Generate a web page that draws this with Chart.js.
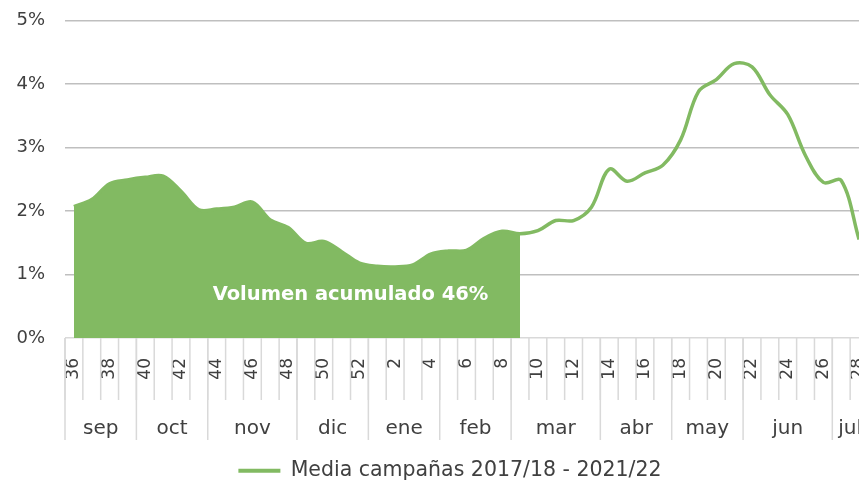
<!DOCTYPE html>
<html>
<head>
<meta charset="utf-8">
<script src="https://cdn.jsdelivr.net/npm/chart.js@4.4.1/dist/chart.umd.min.js"></script>
<style>
html,body{margin:0;padding:0;background:#ffffff;overflow:hidden;}
#caja{width:900px;height:485px;}
</style>
</head>
<body>
<div id="caja"><canvas id="grafico" width="900" height="485"></canvas></div>
<script>

// =====================================
// DATOS
// =====================================

const semanas = [
    36,37,38,39,40,41,42,43,44,45,46,47,48,49,50,51,52,
    1,2,3,4,5,6,7,8,9,10,11,12,13,14,15,16,17,18,19,20,
    21,22,23,24,25,26,27,28
];

// % de volumen semanal, media campañas
const media = [
    2.07,2.18,2.43,2.49,2.53,2.55,2.31,2.02,2.03,2.06,2.14,1.86,1.74,1.49,1.52,1.36,1.18,
    1.13,1.12,1.15,1.32,1.37,1.38,1.57,1.68,1.64,1.69,1.85,1.85,2.06,2.66,2.47,2.60,2.72,3.12,3.88,4.07,
    4.32,4.27,3.83,3.52,2.87,2.45,2.48,1.55
];

// el area rellena llega hasta la semana 9
const semanaFinAcumulado = 9;

const acumulado = media.map(
    (v,i)=> i <= semanas.indexOf(semanaFinAcumulado) ? v : null
);

const meses = ["sep","oct","nov","dic","ene","feb","mar","abr","may","jun","jul"];

const semanasPorMes = [4,4,5,4,4,4,5,4,4,5,2];

const ticksY = [0,1,2,3,4,5];

const etiquetaSerie = "Media campañas 2017/18 - 2021/22";

const textoAcumulado = "Volumen acumulado 46%";


// =====================================
// ESTILO
// =====================================

const verde = "#82BA62";
const gris = "#404040";
const fuente = "'DejaVu Sans', sans-serif";

Chart.defaults.font.family = fuente;
Chart.defaults.color = gris;


// =====================================
// EJE DE MESES + TEXTO
// =====================================

const ejeMeses = {

    id:"ejeMeses",

    afterDraw(chart){

        const {ctx, chartArea, scales} = chart;
        const x = scales.x;
        const y = scales.y;

        const medio =
        (x.getPixelForValue(1) - x.getPixelForValue(0)) / 2;

        const base = chartArea.bottom;

        ctx.save();

        ctx.strokeStyle = "#D9D9D9";
        ctx.lineWidth = 1.5;

        // separadores de semanas
        for(let k=0; k<=semanas.length; k++){

            const px = x.getPixelForValue(k) - medio;

            ctx.beginPath();
            ctx.moveTo(px, base);
            ctx.lineTo(px, base + 62);
            ctx.stroke();

        }

        // meses
        ctx.fillStyle = gris;
        ctx.font = "20px " + fuente;
        ctx.textAlign = "center";
        ctx.textBaseline = "middle";

        let inicio = 0;

        meses.forEach((m,i)=>{

            const fin = inicio + semanasPorMes[i];

            const x0 = x.getPixelForValue(inicio) - medio;
            const x1 = x.getPixelForValue(fin) - medio;

            ctx.beginPath();
            ctx.moveTo(x0, base);
            ctx.lineTo(x0, base + 102);
            ctx.stroke();

            ctx.fillText(m, (x0 + x1) / 2, base + 91);

            inicio = fin;

        });

        // texto del area
        ctx.fillStyle = "#ffffff";
        ctx.font = "bold 19.5px " + fuente;

        ctx.fillText(
            textoAcumulado,
            x.getPixelForValue(15.5),
            y.getPixelForValue(0.68)
        );

        ctx.restore();

    }

};


// =====================================
// GRAFICO
// =====================================

const ctx = document.getElementById("grafico");

new Chart(ctx,{

    type:"line",

    data:{

        labels: semanas.map(String),

        datasets:[

            {
                label: etiquetaSerie,
                data: media,
                borderColor: verde,
                backgroundColor: verde,
                borderWidth: 3.5,
                pointRadius: 0,
                tension: 0.35,
                fill: false
            },

            {
                label: "acumulado",
                data: acumulado,
                borderWidth: 0,
                backgroundColor: verde,
                pointRadius: 0,
                tension: 0.35,
                fill: "origin"
            }

        ]

    },

    options:{

        responsive:false,
        animation:false,

        layout:{
            padding:{top:20.5, left:0, right:0, bottom:-6}
        },

        plugins:{

            legend:{

                position:"bottom",

                labels:{

                    boxWidth:42,
                    boxHeight:4,
                    padding:3,
                    color:gris,
                    font:{size:20.5},

                    generateLabels(chart){
                        return Chart.defaults.plugins.legend.labels
                        .generateLabels(chart)
                        .filter(it=>it.datasetIndex===0)
                        .map(it=>{ it.lineWidth = 0; return it; });
                    }

                }

            },

            tooltip:{enabled:false}

        },

        scales:{

            x:{

                offset:true,
                grid:{display:false},
                border:{display:false},

                ticks:{
                    autoSkip:false,
                    minRotation:90,
                    maxRotation:90,
                    padding:12,
                    color:gris,
                    font:{size:17},
                    callback(v,i){
                        const s = semanas[i];
                        return s % 2 === 0 ? String(s) : "";
                    }
                },

                afterFit(s){ s.height = 119.5; }

            },

            y:{

                min:ticksY[0],
                max:ticksY[ticksY.length-1],

                border:{display:false},

                grid:{
                    color:c=> c.tick.value === 0 ? "#D9D9D9" : "#BFBFBF",
                    lineWidth:1.5,
                    drawTicks:true,
                    tickLength:20,
                    tickColor:"rgba(0,0,0,0)"
                },

                ticks:{
                    stepSize:1,
                    padding:0,
                    color:gris,
                    font:{size:18},
                    callback:v=> v + "%"
                },

                afterFit(s){ s.width = 65; }

            },

            derecha:{

                type:"linear",
                position:"right",
                display:true,
                grid:{display:false},
                border:{display:false},
                ticks:{display:false},

                afterFit(s){ s.width = 32; }

            }

        }

    },

    plugins:[ejeMeses]

});

</script>
</body>
</html>
